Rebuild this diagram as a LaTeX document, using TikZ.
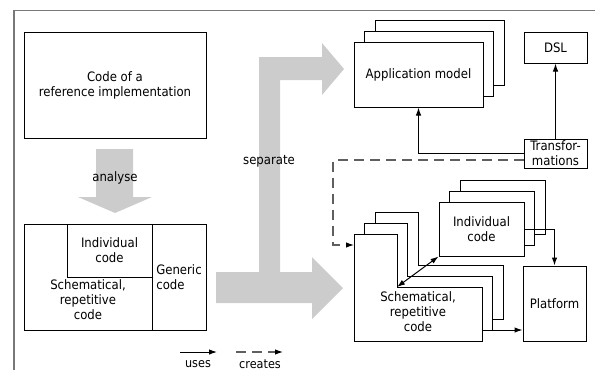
\documentclass[tikz,border=0pt]{standalone}
\usepackage{fontspec}
\setmainfont{DejaVu Sans}[FakeStretch=0.9]
\usetikzlibrary{arrows.meta,shadows}

\definecolor{arrowgray}{RGB}{204,204,204}
\definecolor{dashgray}{RGB}{95,95,95}
\definecolor{framegray}{RGB}{120,120,120}

\begin{document}
\begin{tikzpicture}[x=1pt,y=-1pt,
  every node/.style={font=\fontsize{13}{15}\selectfont, align=center, inner sep=0pt},
  box/.style={draw=black, line width=1pt, fill=white},
  stack/.style={box, double copy shadow={shadow xshift=10.7pt, shadow yshift=10.7pt,
      draw=black, fill=white, line width=1pt}},
  tip/.style={},
  link/.style={draw=black, line width=1pt, -{Latex[length=8pt,width=5.5pt]}},
  twoway/.style={draw=black, line width=1pt,
      {Latex[length=8pt,width=5.5pt]}-{Latex[length=8pt,width=5.5pt]}},
  made/.style={draw=dashgray, line width=1.1pt, dash pattern=on 10pt off 6pt,
      -{Latex[length=8pt,width=5.5pt,fill=black,color=black]}},
  bigarrow/.style={fill=arrowgray, draw=none},
  legendtext/.style={font=\fontsize{12.5}{14}\selectfont},
]
\useasboundingbox (0,0) rectangle (595,370);

% outer frame
\draw[framegray, line width=1.5pt] (14,370) -- (14,10.5) -- (595,10.5);

% reference implementation
\node[box, minimum width=182pt, minimum height=106pt] (ref) at (115,85)
  {Code of a\\reference implementation};

% analysis arrow
\fill[bigarrow] (96,149) -- (133,149) -- (133,197) -- (152,197) -- (115,213)
  -- (78,197) -- (96,197) -- cycle;
\node (analyse) at (115,178) {analyse};

% analysed code
\node[box, minimum width=182pt, minimum height=106pt] (legacy) at (115,277) {};
\node[box, minimum width=54pt, minimum height=106pt, align=left] (generic) at (179,277)
  {Generic\\code};
\node[box, minimum width=85pt, minimum height=53pt] (indold) at (109.5,250.5)
  {Individual\\code};
\node (schold) at (88,300) {Schematical,\\repetitive\\code};

% separation arrow
\fill[bigarrow] (259,57) -- (322,57) -- (322,43) -- (344,69) -- (322,95) -- (322,80)
  -- (280,80) -- (280,272) -- (312,272) -- (312,257) -- (343,288) -- (312,319)
  -- (312,303) -- (216,303) -- (216,272) -- (259,272) -- cycle;
\node (separate) at (269,161) {separate};

% model side
\node[stack, minimum width=129pt, minimum height=65pt] (app) at (418.5,74.5)
  {Application model};
\node[box, minimum width=63pt, minimum height=31pt] (dsl) at (555.5,47.5) {DSL};
\node[box, minimum width=63pt, minimum height=29pt] (trans) at (555.5,153.5)
  {Transfor-\\mations};

% generated code stack
\foreach \d in {21.4,10.7,0} {
  \draw[box, shift={(\d,-\d)}] (354,234) -- (397,234) -- (397,287) -- (482,287)
    -- (482,341) -- (354,341) -- cycle;
}
\node (schem) at (418,312) {Schematical,\\repetitive\\code};
\coordinate (schcorner) at (397,287);
\coordinate (schout) at (482,330);
\coordinate (schin) at (354,245);

\node[stack, minimum width=85pt, minimum height=54pt] (indnew) at (481.5,229)
  {Individual\\code};
\node[box, minimum width=63pt, minimum height=75pt] (platform) at (554.5,303.5)
  {Platform};

% connectors
\draw[link] (trans.west) -| (app.south);
\draw[link] (trans.north) -- (dsl.south);
\coordinate (dashcorner) at (333,245);
\draw[made] ([yshift=-6.5pt]trans.west) -| (dashcorner) -- (schin);
\draw[twoway] (schcorner) -- (indnew.south west);
\draw[link] (indnew.east) -| (platform.north);
\draw[link] (schout) -- (schout -| platform.west);

% legend
\coordinate (u1) at (180,352);
\coordinate (u2) at (217,352);
\coordinate (c1) at (236,352);
\coordinate (c2) at (283,352);
\draw[link] (u1) -- (u2);
\draw[made] (c1) -- (c2);
\node[legendtext] (uses) at (198,364) {uses};
\node[legendtext] (creates) at (260,364) {creates};
\end{tikzpicture}
\end{document}
